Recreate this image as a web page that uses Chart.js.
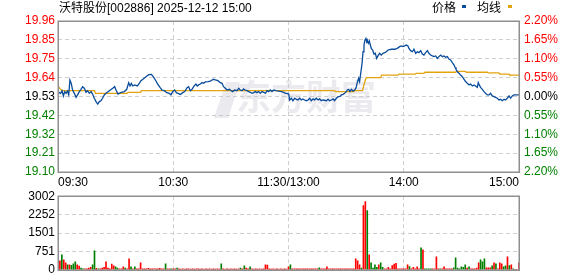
<!DOCTYPE html>
<html><head><meta charset="utf-8">
<script src="https://cdn.jsdelivr.net/npm/chart.js@4"></script>
<style>
html,body{margin:0;padding:0;background:#fff;width:578px;height:276px;overflow:hidden}
.box{position:absolute;left:0}
</style></head><body>
<div class="box" style="top:0;width:578px;height:186px"><canvas id="main" width="578" height="186"></canvas></div>
<div class="box" style="top:186px;width:578px;height:94px"><canvas id="vol" width="578" height="94"></canvas></div>
<script>
const titleText = '沃特股份[002886] 2025-12-12 15:00';
const seriesNames = ['价格', '均线'];
const watermarkText = '东方财富';

const xTickMinutes = [0, 60, 120, 180, 240];
const xTickLabels = ['09:30', '10:30', '11:30/13:00', '14:00', '15:00'];
const priceTickValues = [19.10, 19.2075, 19.315, 19.4225, 19.53, 19.6375, 19.745, 19.8525, 19.96];
const priceTickLabels = ['19.10', '19.21', '19.32', '19.42', '19.53', '19.64', '19.75', '19.85', '19.96'];
const pctTickValues = [-2.2, -1.65, -1.1, -0.55, 0, 0.55, 1.1, 1.65, 2.2];
const pctTickLabels = ['2.20%', '1.65%', '1.10%', '0.55%', '0.00%', '0.55%', '1.10%', '1.65%', '2.20%'];
const volTickValues = [0, 751, 1501, 2252, 3002];
const volTickLabels = ['0', '751', '1501', '2252', '3002'];

// price line: minute since 09:30 (trading minutes) and price
const priceMinutes = [
  0, 1.4, 2.1, 2.8, 3.5, 4.2, 4.9, 5.6, 6.2, 6.9,
  7.6, 8.5, 9.4, 10.2, 11.1, 12.0, 12.8, 13.7, 14.6, 15.4,
  16.3, 17.2, 18.0, 18.9, 19.8, 20.7, 21.5, 22.4, 23.2, 24.1,
  25, 26.7, 28.5, 29.5, 30.2, 31.2, 31.9, 33, 34.5, 35.8,
  36.8, 37.5, 38.2, 38.9, 39.9, 41.3, 42.3, 43.2, 44.4, 45.8,
  47.2, 48.6, 49.6, 50.7, 51.9, 53.1, 54.1, 55.4, 56.6, 58,
  58.8, 59.7, 60.7, 61.6, 62.5, 63.7, 64.9, 66.0, 67.2, 68.0,
  68.9, 69.8, 70.6, 71.8, 72.5, 73.2, 74.1, 75.0, 75.8, 76.7,
  78.1, 79.3, 80.2, 81.0, 81.9, 83.3, 84.5, 85.4, 86.2, 87.1,
  88.0, 89.2, 90.2, 90.9, 92.0, 93.2, 94.1, 94.9, 95.8, 96.6,
  97.5, 98.4, 99.3, 100.1, 101.0, 101.9, 102.7, 103.6, 104.5, 105.3,
  106.2, 107.1, 108.0, 108.8, 109.7, 110.5, 111.4, 112.3, 113.5, 114.9,
  116.3, 117.5, 118.3, 119.2, 120.1, 120.6, 121.5, 122.3, 123.2, 124.1,
  124.9, 125.8, 126.7, 127.5, 128.4, 129.3, 130.2, 131.0, 131.9, 132.8,
  133.6, 134.5, 135.4, 136.2, 137.1, 138.0, 139.7, 140.6, 141.4, 142.3,
  143.2, 144.0, 144.9, 145.8, 146.6, 147.5, 148.4, 149.2, 150.1, 150.6,
  151.3, 152.0, 152.7, 153.6, 154.4, 155.1, 155.8, 156.5, 157.0, 157.6,
  158.3, 158.8, 159.3, 159.8, 160.3, 160.7, 161.0, 161.6, 162.1, 162.6,
  163.1, 163.8, 164.5, 165.2, 165.9, 166.6, 167.4, 168.3, 169.2, 170.1,
  170.9, 171.8, 173.5, 175.3, 176.6, 177.9, 178.7, 179.6, 180.5, 181.3,
  182.2, 182.7, 183.6, 184.5, 185.3, 186.2, 187.1, 187.9, 188.8, 189.7,
  190.5, 191.4, 192.3, 193.1, 194.0, 194.9, 195.7, 196.6, 197.5, 198.3,
  199.2, 200.1, 200.9, 201.8, 202.7, 203.6, 204.4, 205.3, 206.2, 206.7,
  207.2, 207.9, 208.8, 209.6, 210.5, 211.4, 212.2, 213.1, 214.0, 214.8,
  215.7, 216.6, 217.4, 218.3, 218.8, 219.3, 220.0, 220.9, 221.8, 222.6,
  223.5, 224.4, 225.2, 226.1, 227.0, 227.8, 228.7, 229.6, 230.4, 231.3,
  232.2, 233.0, 233.9, 234.8, 235.6, 236.5, 237.4, 238.3, 240.0
];
const prices = [
  19.556, 19.548, 19.563, 19.533, 19.558, 19.548, 19.561, 19.539, 19.624, 19.605,
  19.567, 19.548, 19.525, 19.539, 19.558, 19.571, 19.586, 19.577, 19.554, 19.563,
  19.548, 19.558, 19.544, 19.520, 19.501, 19.487, 19.501, 19.506, 19.520, 19.539,
  19.548, 19.563, 19.577, 19.586, 19.567, 19.544, 19.548, 19.554, 19.558, 19.571,
  19.609, 19.590, 19.605, 19.590, 19.596, 19.590, 19.605, 19.620, 19.630, 19.643,
  19.654, 19.656, 19.643, 19.624, 19.601, 19.582, 19.567, 19.563, 19.552, 19.548,
  19.539, 19.558, 19.567, 19.552, 19.548, 19.542, 19.552, 19.558, 19.580, 19.586,
  19.563, 19.571, 19.586, 19.601, 19.590, 19.596, 19.601, 19.609, 19.605, 19.613,
  19.615, 19.618, 19.624, 19.628, 19.624, 19.620, 19.609, 19.605, 19.586, 19.577,
  19.567, 19.571, 19.563, 19.558, 19.567, 19.563, 19.577, 19.567, 19.563, 19.573,
  19.567, 19.563, 19.558, 19.554, 19.548, 19.552, 19.558, 19.552, 19.558, 19.548,
  19.558, 19.554, 19.548, 19.563, 19.558, 19.567, 19.558, 19.567, 19.563, 19.561,
  19.558, 19.554, 19.548, 19.548, 19.544, 19.510, 19.520, 19.506, 19.520, 19.514,
  19.510, 19.520, 19.510, 19.516, 19.510, 19.506, 19.510, 19.520, 19.506, 19.516,
  19.510, 19.520, 19.510, 19.516, 19.506, 19.510, 19.506, 19.514, 19.506, 19.510,
  19.516, 19.506, 19.520, 19.529, 19.529, 19.539, 19.542, 19.548, 19.558, 19.567,
  19.571, 19.558, 19.571, 19.561, 19.567, 19.577, 19.609, 19.634, 19.615, 19.662,
  19.719, 19.785, 19.823, 19.852, 19.861, 19.842, 19.852, 19.833, 19.846, 19.823,
  19.804, 19.795, 19.772, 19.776, 19.747, 19.761, 19.776, 19.766, 19.776, 19.780,
  19.785, 19.795, 19.799, 19.799, 19.804, 19.814, 19.818, 19.814, 19.818, 19.823,
  19.818, 19.804, 19.791, 19.785, 19.799, 19.776, 19.785, 19.780, 19.791, 19.772,
  19.766, 19.780, 19.791, 19.776, 19.766, 19.761, 19.757, 19.761, 19.747, 19.757,
  19.766, 19.757, 19.761, 19.753, 19.757, 19.742, 19.738, 19.723, 19.709, 19.696,
  19.685, 19.671, 19.662, 19.652, 19.643, 19.628, 19.615, 19.605, 19.596, 19.601,
  19.590, 19.596, 19.590, 19.582, 19.609, 19.596, 19.582, 19.571, 19.558, 19.548,
  19.539, 19.539, 19.548, 19.533, 19.529, 19.525, 19.520, 19.510, 19.514, 19.506,
  19.514, 19.510, 19.520, 19.533, 19.520, 19.533, 19.539, 19.539, 19.539
];

// average price line
const avgMinutes = [0, 1, 2, 19, 19.5, 36, 36.5, 43, 43.5, 144, 144.5, 154, 154.5, 158.5, 159.3, 160, 160.5, 168, 168.5, 177, 177.5, 186, 186.5, 190.5, 191, 207, 207.5, 212, 212.5, 223.5, 224, 229.5, 230, 234.8, 235.2, 240];
const avgPrices = [19.590, 19.575, 19.563, 19.563, 19.548, 19.548, 19.554, 19.554, 19.563, 19.563, 19.558, 19.558, 19.563, 19.563, 19.596, 19.624, 19.637, 19.637, 19.652, 19.652, 19.658, 19.658, 19.662, 19.662, 19.668, 19.668, 19.673, 19.673, 19.668, 19.668, 19.664, 19.664, 19.658, 19.658, 19.652, 19.652];

// volume per minute (index = minute since 09:30)
const volumes = [
  0, 368, 614, 410, 287, 205, 205, 180, 246, 328,
  205, 150, 68, 41, 41, 41, 68, 96, 205, 778,
  55, 41, 41, 68, 96, 328, 68, 41, 232, 164,
  123, 68, 41, 41, 123, 68, 41, 450, 123, 41,
  123, 41, 41, 287, 41, 41, 41, 55, 41, 41,
  41, 41, 41, 55, 41, 41, 246, 41, 41, 41,
  41, 41, 68, 41, 27, 41, 27, 41, 41, 27,
  41, 27, 41, 41, 27, 41, 27, 41, 27, 41,
  27, 41, 27, 41, 27, 246, 41, 27, 41, 27,
  41, 27, 41, 27, 41, 68, 41, 164, 68, 41,
  123, 41, 27, 41, 27, 41, 27, 41, 205, 190,
  41, 27, 41, 27, 41, 27, 41, 27, 41, 27,
  123, 205, 41, 41, 41, 41, 41, 41, 41, 41,
  41, 41, 41, 41, 41, 41, 82, 41, 41, 41,
  123, 41, 41, 41, 41, 41, 41, 41, 41, 41,
  41, 41, 41, 41, 41, 450, 368, 205, 68, 2621,
  2785, 2416, 614, 287, 68, 205, 96, 205, 287, 96,
  41, 41, 96, 41, 177, 232, 260, 41, 41, 41,
  41, 41, 205, 136, 41, 96, 41, 123, 41, 900,
  819, 41, 41, 41, 41, 41, 41, 532, 41, 41,
  41, 123, 41, 41, 41, 41, 82, 491, 68, 41,
  123, 96, 205, 68, 123, 41, 41, 41, 68, 287,
  410, 328, 450, 82, 82, 82, 164, 287, 246, 41,
  287, 246, 123, 164, 532, 177, 205, 41, 0, 0,
  287
];
// r = up (red), g = down (green), per minute
const volumeDirs = [
  'rrgrrgrggg', 'rrggrrrrgg', 'rgrrrrrrrr', 'ggrrrgrrgr', 'grrrrrrrrr',
  'rrrrrrgrrg', 'rrgrrrrrrr', 'rrrrrrrrrr', 'rrrrrgrrrr', 'rrrrrgrgrr',
  'grrrrrrrrr', 'rrrrrrrrrr', 'rgrrrrrrrr', 'rrrrrrgrrr', 'rrrrrrrrrr',
  'rrrrrrrrgr', 'rgrggggrgg', 'rrrrrrrrrr', 'rrrgrrrrrg', 'rggggrrrrg',
  'rrrrrrgggg', 'gggrgrrrrr', 'gggrrrgrgr', 'rrggrgrgrr', 'r'
].join('');

const FONT = '"Liberation Sans", Arial, sans-serif';
const CJKFONT = '"Liberation Sans", "Noto Sans CJK SC", sans-serif';
const RED = '#ff0000', GREEN = '#008000', BLUE = '#0a4c9c', ORANGE = '#e2a30e';
const GRID = '#cfcfcf';

function sideColor(i) { return i > 4 ? RED : (i === 4 ? '#000000' : GREEN); }

const framePlugin = {
  id: 'frame',
  afterDraw(chart) {
    const a = chart.chartArea, ctx = chart.ctx;
    ctx.save();
    ctx.strokeStyle = '#8f8f8f';
    ctx.lineWidth = 1.5;
    ctx.strokeRect(Math.round(a.left) + 0.25, Math.round(a.top) + 0.25, Math.round(a.right - a.left), Math.round(a.bottom - a.top));
    ctx.restore();
  }
};

const headerPlugin = {
  id: 'header',
  afterDraw(chart) {
    const ctx = chart.ctx;
    ctx.save();
    ctx.font = '12px ' + CJKFONT;
    ctx.textBaseline = 'middle';
    ctx.textAlign = 'left';
    ctx.fillStyle = '#000';
    ctx.fillText(titleText, 59, 9);
    ctx.fillText(seriesNames[0], 432, 9);
    ctx.fillText(seriesNames[1], 477, 9);
    ctx.fillStyle = BLUE;
    ctx.fillRect(462, 5, 4, 3);
    ctx.fillStyle = ORANGE;
    ctx.fillRect(508, 5, 4, 3);
    ctx.restore();
  }
};

const watermarkPlugin = {
  id: 'watermark',
  beforeDatasetsDraw(chart) {
    const ctx = chart.ctx;
    ctx.save();
    ctx.fillStyle = 'rgba(190,192,205,0.33)';
    ctx.beginPath();
    ctx.moveTo(214, 118); ctx.lineTo(226, 82); ctx.lineTo(240, 82); ctx.lineTo(228, 118);
    ctx.closePath(); ctx.fill();
    ctx.font = 'bold 35px "Noto Sans CJK SC", sans-serif';
    ctx.textBaseline = 'middle';
    ctx.fillText(watermarkText, 236, 97);
    ctx.restore();
  }
};

new Chart(document.getElementById('main'), {
  type: 'line',
  data: {
    datasets: [
      { label: seriesNames[0], data: priceMinutes.map((m, i) => ({ x: m, y: prices[i] })),
        borderColor: BLUE, borderWidth: 1.3, pointRadius: 0, tension: 0, yAxisID: 'y', order: 1 },
      { label: seriesNames[1], data: avgMinutes.map((m, i) => ({ x: m, y: avgPrices[i] })),
        borderColor: ORANGE, borderWidth: 1.3, pointRadius: 0, tension: 0, yAxisID: 'y', order: 2 }
    ]
  },
  options: {
    responsive: false, animation: false, events: [],
    layout: { padding: { top: 21, left: 0, right: 0, bottom: 0 } },
    plugins: { legend: { display: false }, tooltip: { enabled: false } },
    scales: {
      x: {
        type: 'linear', min: 0, max: 240,
        afterBuildTicks: s => { s.ticks = xTickMinutes.map(v => ({ value: v })); },
        afterFit: s => { s.height = 14; },
        ticks: { autoSkip: false, maxRotation: 0, align: 'inner', padding: 3, color: '#000',
          font: { family: FONT, size: 12 }, callback: (v, i) => xTickLabels[i] },
        grid: { color: GRID, lineWidth: 1, drawTicks: false },
        border: { display: false, dash: [4, 3] }
      },
      y: {
        position: 'left', min: 19.10, max: 19.96,
        afterBuildTicks: s => { s.ticks = priceTickValues.map(v => ({ value: v })); },
        afterFit: s => { s.width = 58; },
        ticks: { padding: 3, color: c => sideColor(c.index), font: { family: FONT, size: 12 },
          callback: (v, i) => priceTickLabels[i] },
        grid: { color: GRID, lineWidth: 1, drawTicks: false },
        border: { display: false, dash: [4, 3] }
      },
      y2: {
        position: 'right', min: -2.2, max: 2.2,
        afterBuildTicks: s => { s.ticks = pctTickValues.map(v => ({ value: v })); },
        afterFit: s => { s.width = 59; },
        ticks: { padding: 5, color: c => sideColor(c.index), font: { family: FONT, size: 12 },
          callback: (v, i) => pctTickLabels[i] },
        grid: { display: false, drawTicks: false },
        border: { display: false }
      }
    }
  },
  plugins: [watermarkPlugin, framePlugin, headerPlugin]
});

new Chart(document.getElementById('vol'), {
  type: 'bar',
  data: {
    datasets: [{
      data: volumes.map((v, i) => ({ x: i, y: v })),
      backgroundColor: volumes.map((v, i) => volumeDirs[i] === 'g' ? GREEN : RED),
      barThickness: 1, borderWidth: 0
    }]
  },
  options: {
    responsive: false, animation: false, events: [],
    layout: { padding: { top: 10, left: 0, right: 59, bottom: 6 } },
    plugins: { legend: { display: false }, tooltip: { enabled: false } },
    scales: {
      x: {
        type: 'linear', min: 0, max: 240, offset: false,
        afterBuildTicks: s => { s.ticks = xTickMinutes.map(v => ({ value: v })); },
        afterFit: s => { s.height = 0; },
        ticks: { display: false },
        grid: { color: GRID, lineWidth: 1, drawTicks: false, offset: false },
        border: { display: false, dash: [4, 3] }
      },
      y: {
        position: 'left', min: 0, max: 3002,
        afterBuildTicks: s => { s.ticks = volTickValues.map(v => ({ value: v })); },
        afterFit: s => { s.width = 58; },
        ticks: { padding: 3, color: '#000', font: { family: FONT, size: 12 },
          callback: (v, i) => volTickLabels[i] },
        grid: { color: GRID, lineWidth: 1, drawTicks: false },
        border: { display: false, dash: [4, 3] }
      }
    }
  },
  plugins: [framePlugin]
});
</script>
</body></html>
